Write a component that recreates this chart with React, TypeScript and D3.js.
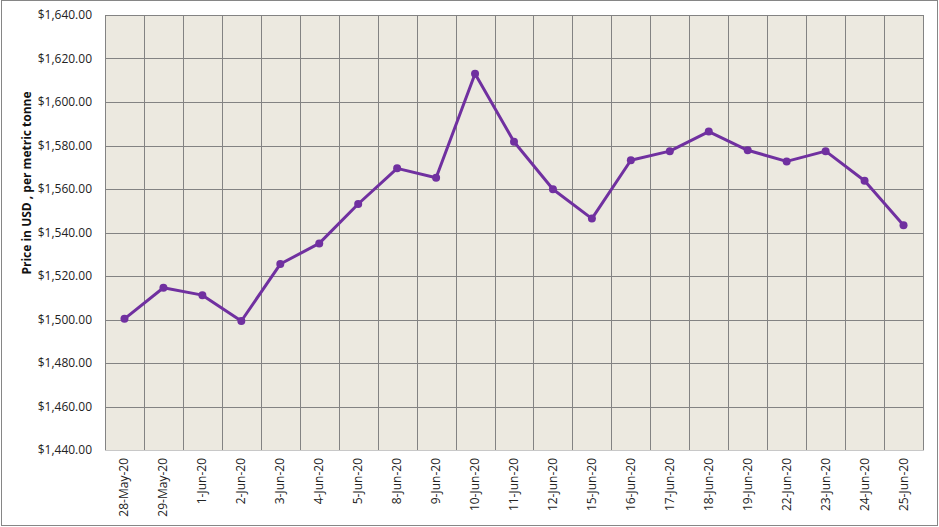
import React, { useEffect, useRef } from 'react';
import * as d3 from 'd3';

const dates = [
  '28-May-20', '29-May-20', '1-Jun-20', '2-Jun-20', '3-Jun-20', '4-Jun-20', '5-Jun-20',
  '8-Jun-20', '9-Jun-20', '10-Jun-20', '11-Jun-20', '12-Jun-20', '15-Jun-20', '16-Jun-20',
  '17-Jun-20', '18-Jun-20', '19-Jun-20', '22-Jun-20', '23-Jun-20', '24-Jun-20', '25-Jun-20',
];
const prices = [
  1500.3, 1514.6, 1511.2, 1499.3, 1525.5, 1535.0, 1553.1,
  1569.5, 1565.2, 1613.0, 1581.7, 1559.9, 1546.4, 1573.2,
  1577.4, 1586.4, 1577.8, 1572.7, 1577.4, 1563.8, 1543.3,
];
const yTicks = [1440, 1460, 1480, 1500, 1520, 1540, 1560, 1580, 1600, 1620, 1640];

const W = 939;
const H = 527;

const App = () => {
  const ref = useRef(null);

  useEffect(() => {
    const svg = d3.select(ref.current);
    svg.selectAll('*').remove();

    const left = 105, right = 923, top = 15, bottom = 450;
    const font = 'Open Sans, sans-serif';

    // outer frame
    svg.append('rect')
      .attr('x', 1.5).attr('y', 0.5)
      .attr('width', 936).attr('height', 525)
      .attr('fill', '#fff')
      .attr('stroke', '#868686');

    const x = d3.scaleBand().domain(dates).range([left, right]);
    const y = d3.scaleLinear().domain([1440, 1640]).range([bottom, top]);

    svg.append('rect')
      .attr('x', left).attr('y', top)
      .attr('width', right - left).attr('height', bottom - top)
      .attr('fill', '#ECE9E0');

    // horizontal grid
    svg.append('g')
      .selectAll('line')
      .data(yTicks.slice(1))
      .enter().append('line')
      .attr('x1', left).attr('x2', right)
      .attr('y1', d => Math.round(y(d)) + 0.5)
      .attr('y2', d => Math.round(y(d)) + 0.5)
      .attr('stroke', '#838383');

    // vertical grid
    const xEdges = dates.map(d => x(d)).concat([right]);
    svg.append('g')
      .selectAll('line')
      .data(xEdges)
      .enter().append('line')
      .attr('x1', d => Math.round(d) + 0.5).attr('x2', d => Math.round(d) + 0.5)
      .attr('y1', top).attr('y2', bottom)
      .attr('stroke', '#838383');

    // bottom axis line
    svg.append('line')
      .attr('x1', left).attr('x2', right + 1)
      .attr('y1', bottom + 0.5).attr('y2', bottom + 0.5)
      .attr('stroke', '#c8c8c8');

    // y tick labels
    const fmt = d3.format('$,.2f');
    svg.append('g')
      .selectAll('text')
      .data(yTicks)
      .enter().append('text')
      .attr('x', 92)
      .attr('y', d => y(d))
      .attr('dy', '0.35em')
      .attr('text-anchor', 'end')
      .attr('font-family', font)
      .attr('font-size', 12)
      .attr('fill', '#222')
      .text(d => fmt(d));

    // x tick labels
    svg.append('g')
      .selectAll('text')
      .data(dates)
      .enter().append('text')
      .attr('transform', d => `translate(${x(d) + x.bandwidth() / 2 + 4},458) rotate(-90)`)
      .attr('text-anchor', 'end')
      .attr('font-family', font)
      .attr('font-size', 12)
      .attr('fill', '#222')
      .text(d => d);

    // y axis title
    svg.append('text')
      .attr('transform', 'translate(31,183) rotate(-90)')
      .attr('text-anchor', 'middle')
      .attr('font-family', font)
      .attr('font-size', 12)
      .attr('font-weight', 'bold')
      .attr('fill', '#111')
      .text('Price in USD , per metric tonne');

    const cx = (d, i) => x(dates[i]) + x.bandwidth() / 2;
    const line = d3.line()
      .x((d, i) => cx(d, i))
      .y(d => y(d));

    svg.append('path')
      .datum(prices)
      .attr('d', line)
      .attr('fill', 'none')
      .attr('stroke', '#7030A0')
      .attr('stroke-width', 3)
      .attr('stroke-linejoin', 'round');

    svg.append('g')
      .selectAll('circle')
      .data(prices)
      .enter().append('circle')
      .attr('cx', (d, i) => cx(d, i))
      .attr('cy', d => y(d))
      .attr('r', 4)
      .attr('fill', '#7030A0');
  }, []);

  return (
    <div style={{ position: 'absolute', left: 0, top: 0, width: W, height: H }}>
      <svg ref={ref} width={W} height={H}></svg>
    </div>
  );
};

export default App;
